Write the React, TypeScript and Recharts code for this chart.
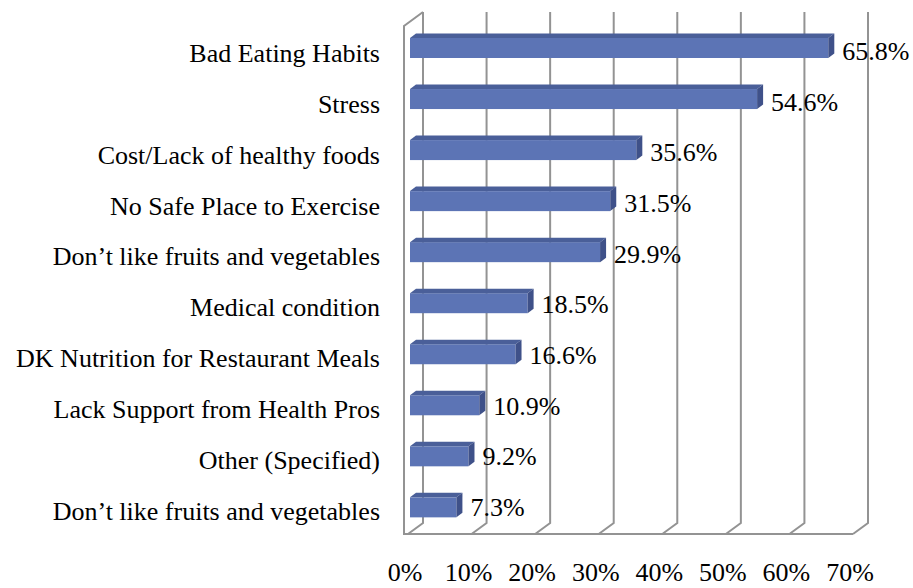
import { BarChart, Bar, XAxis, YAxis, CartesianGrid, LabelList } from 'recharts'

const CATEGORIES = [
  'Bad Eating Habits',
  'Stress',
  'Cost/Lack of healthy foods',
  'No Safe Place to Exercise',
  'Don\u2019t like fruits and vegetables',
  'Medical condition',
  'DK Nutrition for Restaurant Meals',
  'Lack Support from Health Pros',
  'Other (Specified)',
  'Don\u2019t like fruits and vegetables',
]
const VALUES = [65.8, 54.6, 35.6, 31.5, 29.9, 18.5, 16.6, 10.9, 9.2, 7.3]
const X_TICKS = [0, 10, 20, 30, 40, 50, 60, 70]

const data = CATEGORIES.map((name, i) => ({ id: i, name, value: VALUES[i] }))

const FONT = 'Liberation Serif, DejaVu Serif, serif'
const FRONT = '#5c74b5'
const TOP = '#4a5f99'
const SIDE = '#3f5189'
const GRID = '#939393'
const DX = 6
const DY = 4.5

const textStyle = { fontFamily: FONT, fontSize: 26, fill: '#000' }

function Bar3D(props: any) {
  const { x, y, width, height } = props
  if (width == null || height == null) return null
  return (
    <g>
      <rect x={x} y={y} width={width} height={height} fill={FRONT} />
      <polygon points={`${x},${y} ${x + DX},${y - DY} ${x + width + DX},${y - DY} ${x + width},${y}`} fill={TOP} />
      <polygon
        points={`${x + width},${y} ${x + width + DX},${y - DY} ${x + width + DX},${y + height - DY} ${x + width},${y + height}`}
        fill={SIDE}
      />
    </g>
  )
}

// back wall gridline + floor diagonal; first line also draws left wall and floor edge
function WallLine(props: any) {
  const { x1, y1, y2, index, x, width } = props
  return (
    <g>
      <path
        d={`M${x1 + 13},${y1 - 10} L${x1 + 13},${y2 - 9.4} L${x1 - 2},${y2 + 1.6}`}
        fill="none"
        stroke={GRID}
        strokeWidth={2}
      />
      {index === 0 && (
        <path
          d={`M${x1 + 13},${y1 - 10} L${x1 - 6},${y1 + 4} L${x1 - 6},${y2 + 1.6} L${x + width - 2},${y2 + 1.6}`}
          fill="none"
          stroke={GRID}
          strokeWidth={2}
        />
      )}
    </g>
  )
}

function CategoryTick(props: any) {
  const { x, y, payload } = props
  const i = payload.value
  return (
    <text x={x} y={y + 13 + (9 - i) * 0.15} textAnchor="end" style={textStyle}>
      {CATEGORIES[i]}
    </text>
  )
}

function PercentTick(props: any) {
  const { x, y, payload } = props
  return (
    <text x={x - 5} y={y + 49} textAnchor="middle" style={textStyle}>
      {payload.value}%
    </text>
  )
}

function ValueLabel(props: any) {
  const { x, y, width, height, value, index } = props
  return (
    <text x={x + width + DX + 8} y={y + height / 2 + 8.5 + (9 - index) * 0.4} style={textStyle}>
      {Number(value).toFixed(1)}%
    </text>
  )
}

export default function App() {
  return (
    <div style={{ position: 'absolute', left: 0, top: 0, background: '#fff' }}>
      <BarChart
        width={913}
        height={588}
        data={data}
        layout="vertical"
        margin={{ top: 22, right: 58, bottom: 15.6, left: 0 }}
      >
        <CartesianGrid horizontal={false} vertical={(p: any) => <WallLine {...p} />} />
        <XAxis
          type="number"
          domain={[0, 70]}
          ticks={X_TICKS}
          height={40}
          axisLine={false}
          tickLine={false}
          tickSize={0}
          tickMargin={0}
          tick={<PercentTick />}
        />
        <YAxis
          type="category"
          dataKey="id"
          width={410}
          axisLine={false}
          tickLine={false}
          tickSize={0}
          tickMargin={30}
          interval={0}
          tick={<CategoryTick />}
        />
        <Bar dataKey="value" barSize={20} shape={<Bar3D />} isAnimationActive={false}>
          <LabelList dataKey="value" content={<ValueLabel />} />
        </Bar>
      </BarChart>
    </div>
  )
}
